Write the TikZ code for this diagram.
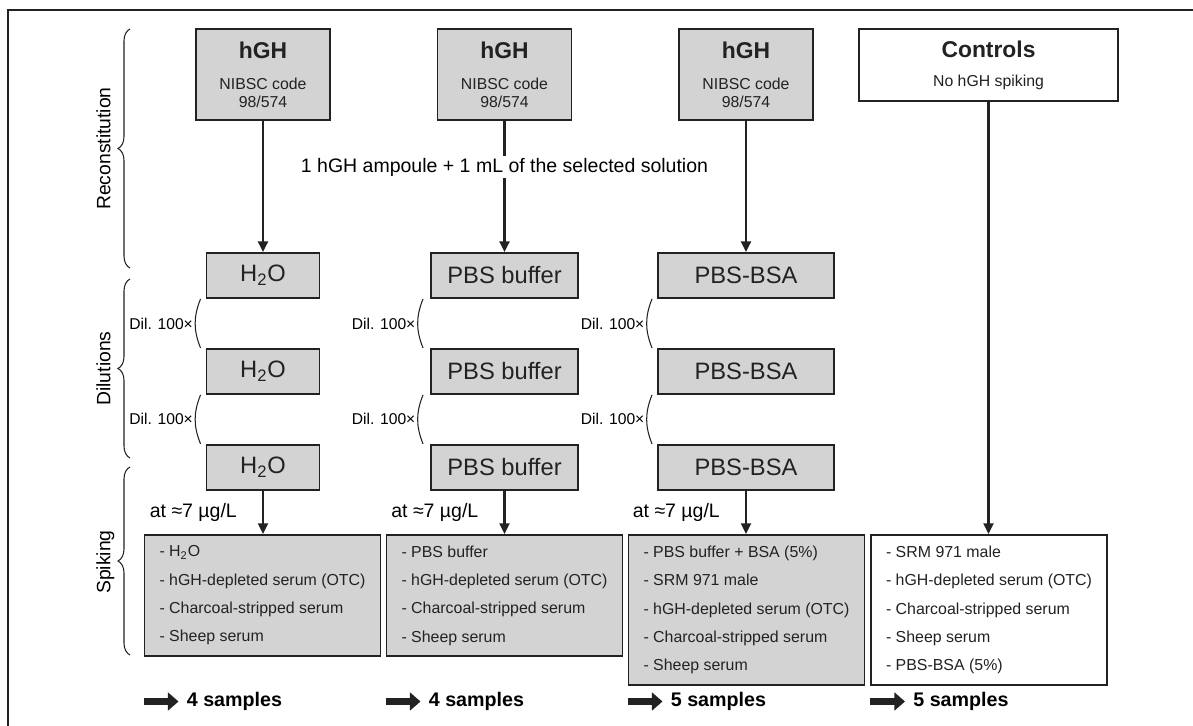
\documentclass[tikz,border=0pt]{standalone}
\usepackage{fontspec}
\setmainfont{Liberation Sans}
\usepackage{tikz}
\usetikzlibrary{arrows.meta,positioning,decorations.pathreplacing}

\definecolor{boxgray}{RGB}{211,211,212}
\definecolor{linegray}{RGB}{35,33,34}

\begin{document}
\begin{tikzpicture}[
	box/.style={draw=linegray,line width=1.1pt,fill=boxgray,inner sep=0pt,text=linegray},
	srcbox/.style={box,minimum width=2.68cm,minimum height=1.82cm,align=center,font=\fontsize{9}{10.2}\selectfont},
	solbox/.style={box,minimum height=0.9cm,font=\fontsize{13.5}{16}\selectfont},
	listbox/.style={box,anchor=north,minimum width=4.72cm,align=left,font=\fontsize{9.05}{16.1}\selectfont},
	flow/.style={line width=1.3pt,draw=linegray,-{Triangle[length=6pt,width=5.6pt]}},
	atlabel/.style={left=0.5cm,inner sep=0pt,font=\fontsize{11.1}{13}\selectfont},
	dil/.style={line width=0.6pt,draw=linegray},
	dillabel/.style={left,inner sep=1pt,font=\fontsize{8.9}{10}\selectfont},
	phase/.style={decorate,decoration={brace,amplitude=0.24cm},line width=0.6pt,draw=linegray},
	phaselabel/.style={rotate=90,inner sep=0pt,text height=1.5ex,text depth=0.25ex,font=\fontsize{11}{13}\selectfont},
	fat/.style={line width=4.3pt,draw=linegray,-{Triangle[length=6pt,width=10pt]}},
	samplecount/.style={inner sep=0pt,anchor=west,font=\fontsize{11.2}{13}\selectfont\bfseries},
]
	\useasboundingbox (0,0) rectangle (23.86,-14.52);
	% the frame (only top and left side are seen)
	\draw[line width=1.1pt,draw=linegray] (0.16,-14.52) -- (0.16,-0.2) -- (23.86,-0.2);

	%% hGH ampoules and the controls
	\node[srcbox] (src1) at (5.26,-1.49) {{\fontsize{13}{13}\selectfont\bfseries hGH}\\[7.4pt]NIBSC code\\98/574};
	\node[srcbox] (src2) at (10.09,-1.49) {{\fontsize{13}{13}\selectfont\bfseries hGH}\\[7.4pt]NIBSC code\\98/574};
	\node[srcbox] (src3) at (14.92,-1.49) {{\fontsize{13}{13}\selectfont\bfseries hGH}\\[7.4pt]NIBSC code\\98/574};
	\node[srcbox,fill=white,minimum width=5.18cm,minimum height=1.44cm] (ctrl) at (19.77,-1.30) {{\fontsize{13}{13}\selectfont\bfseries Controls}\\[6.3pt]No hGH spiking};

	%% the three solutions, one column each
	\node[solbox,minimum width=2.26cm] (w1) at (5.26,-5.51) {H\textsubscript{2}O};
	\node[solbox,minimum width=2.26cm,below=0.98cm of w1] (w2) {H\textsubscript{2}O};
	\node[solbox,minimum width=2.26cm,below=0.98cm of w2] (w3) {H\textsubscript{2}O};
	\node[solbox,minimum width=2.94cm] (b1) at (10.09,-5.51) {PBS buffer};
	\node[solbox,minimum width=2.94cm,below=0.98cm of b1] (b2) {PBS buffer};
	\node[solbox,minimum width=2.94cm,below=0.98cm of b2] (b3) {PBS buffer};
	\node[solbox,minimum width=3.52cm] (s1) at (14.92,-5.51) {PBS-BSA};
	\node[solbox,minimum width=3.52cm,below=0.98cm of s1] (s2) {PBS-BSA};
	\node[solbox,minimum width=3.52cm,below=0.98cm of s2] (s3) {PBS-BSA};

	%% the spiked matrices
	\node[listbox,minimum height=2.42cm] (list1) at (5.25,-10.68) {- H\textsubscript{2}O\\- hGH-depleted serum (OTC)\\- Charcoal-stripped serum\\- Sheep serum};
	\node[listbox,minimum height=2.42cm] (list2) at (10.09,-10.68) {- PBS buffer\\- hGH-depleted serum (OTC)\\- Charcoal-stripped serum\\- Sheep serum};
	\node[listbox,minimum height=3.0cm] (list3) at (14.93,-10.68) {- PBS buffer + BSA (5\%)\\- SRM 971 male\\- hGH-depleted serum (OTC)\\- Charcoal-stripped serum\\- Sheep serum};
	\node[listbox,fill=white,minimum height=3.0cm] (list4) at (19.78,-10.68) {- SRM 971 male\\- hGH-depleted serum (OTC)\\- Charcoal-stripped serum\\- Sheep serum\\- PBS-BSA (5\%)};

	%% reconstitution
	\draw[flow] (src1) -- (w1);
	\draw[flow] (src2) -- node[pos=0.353,fill=white,inner sep=1pt,font=\fontsize{11.1}{13}\selectfont] (amp) {1 hGH ampoule + 1 mL of the selected solution} (b1);
	\draw[flow] (src3) -- (s1);
	\draw[flow] (ctrl.south) -- (ctrl.south |- list4.north);

	%% dilutions
	\draw[dil] ([xshift=-0.1cm]w1.south west) to[bend right=22] node[dillabel] (dw1) {Dil. 100×} ([xshift=-0.1cm]w2.north west);
	\draw[dil] ([xshift=-0.1cm]w2.south west) to[bend right=22] node[dillabel] (dw2) {Dil. 100×} ([xshift=-0.1cm]w3.north west);
	\draw[dil] ([xshift=-0.14cm]b1.south west) to[bend right=22] node[dillabel] (db1) {Dil. 100×} ([xshift=-0.14cm]b2.north west);
	\draw[dil] ([xshift=-0.14cm]b2.south west) to[bend right=22] node[dillabel] (db2) {Dil. 100×} ([xshift=-0.14cm]b3.north west);
	\draw[dil] ([xshift=-0.1cm]s1.south west) to[bend right=22] node[dillabel] (ds1) {Dil. 100×} ([xshift=-0.1cm]s2.north west);
	\draw[dil] ([xshift=-0.1cm]s2.south west) to[bend right=22] node[dillabel] (ds2) {Dil. 100×} ([xshift=-0.1cm]s3.north west);

	%% spiking
	\draw[flow] (w3.south) -- node[atlabel] (at1) {at ≈7 µg/L} (w3.south |- list1.north);
	\draw[flow] (b3.south) -- node[atlabel] (at2) {at ≈7 µg/L} (b3.south |- list2.north);
	\draw[flow] (s3.south) -- node[atlabel] (at3) {at ≈7 µg/L} (s3.south |- list3.north);

	%% the three steps on the left
	\draw[phase] (2.6,-5.36) -- (2.6,-0.58);
	\draw[phase] (2.6,-9.16) -- (2.6,-5.58);
	\draw[phase] (2.6,-13.1) -- (2.6,-9.34);
	\node[phaselabel] (lrec) at (2.09,-2.97) {Reconstitution};
	\node[phaselabel] (ldil) at (2.09,-7.37) {Dilutions};
	\node[phaselabel] (lspk) at (2.09,-11.24) {Spiking};

	%% number of samples
	\coordinate (a1) at (list1.south west |- 0,-14.03);
	\coordinate (a2) at (list2.south west |- 0,-14.03);
	\coordinate (a3) at (list3.south west |- 0,-14.03);
	\coordinate (a4) at (list4.south west |- 0,-14.03);
	\node[samplecount,right=0.86cm of a1] (n1) {4 samples};
	\node[samplecount,right=0.86cm of a2] (n2) {4 samples};
	\node[samplecount,right=0.86cm of a3] (n3) {5 samples};
	\node[samplecount,right=0.86cm of a4] (n4) {5 samples};
	\draw[fat] (a1) -- ([xshift=-0.16cm]n1.west);
	\draw[fat] (a2) -- ([xshift=-0.16cm]n2.west);
	\draw[fat] (a3) -- ([xshift=-0.16cm]n3.west);
	\draw[fat] (a4) -- ([xshift=-0.16cm]n4.west);
\end{tikzpicture}
\end{document}
